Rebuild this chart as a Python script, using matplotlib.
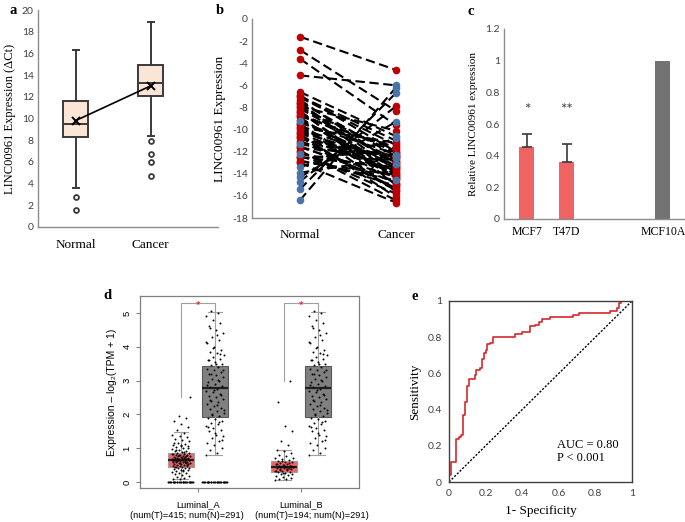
"""
plot.py

Five panel LINC00961 figure (a-e), redrawn with matplotlib.
"""

import numpy as np
import matplotlib
matplotlib.use("Agg")
import matplotlib.pyplot as plt
import matplotlib.transforms as mtransforms


# ------------------------------------------------------
# Data
# ------------------------------------------------------

# panel a: box stats (delta Ct)
a_groups = ["Normal", "Cancer"]
a_whislo = [3.6, 8.4]
a_q1 = [8.3, 12.1]
a_med = [9.5, 13.3]
a_q3 = [11.6, 14.9]
a_whishi = [16.3, 18.9]
a_mean = [9.8, 13.0]
a_fliers = [[2.8, 1.6], [7.9, 6.7, 6.0, 4.7]]

# panel b: paired samples
b_groups = ["Normal", "Cancer"]
b_normal = [-1.6, -2.8, -3.6, -5.1, -6.6, -6.9, -7.1, -7.3, -7.5, -7.7,
            -7.9, -8.1, -8.3, -8.5, -8.7, -8.9, -9.2, -9.4, -9.6, -9.8,
            -10.0, -10.2, -10.4, -10.6, -10.8, -11.0, -11.3, -11.5, -11.7,
            -11.9, -12.2, -12.4, -12.6, -12.8, -13.0, -13.4, -13.9, -14.3,
            -14.7, -15.4, -16.4,
            -7.0, -7.6, -8.0, -8.4, -8.8, -9.1, -9.5, -9.9, -10.3, -10.7,
            -11.2, -11.6, -12.0, -12.5, -12.9]
b_cancer = [-4.6, -8.3, -9.6, -6.0, -10.6, -12.0, -11.4, -13.2, -12.4,
            -14.2, -10.1, -13.0, -15.0, -12.7, -11.8, -14.5, -13.5, -12.2,
            -15.6, -11.2, -13.8, -12.9, -16.1, -14.0, -12.5, -15.3, -13.1,
            -14.8, -12.3, -16.4, -13.6, -15.1, -11.9, -14.6, -16.6, -10.8,
            -12.6, -9.3, -7.9, -6.7, -6.2,
            -11.0, -13.7, -12.1, -14.4, -11.6, -13.3, -14.9, -12.8, -13.9,
            -15.5, -12.4, -14.3, -15.8, -13.4, -14.1]
b_normal_col = ["r", "r", "r", "r", "r", "r", "r", "r", "r", "r",
                "r", "r", "r", "r", "r", "r", "b", "r", "r", "r",
                "r", "r", "r", "r", "r", "r", "b", "r", "r",
                "r", "b", "r", "r", "r", "r", "b", "b", "b",
                "b", "b", "b",
                "r", "r", "r", "r", "r", "r", "r", "r", "r", "r",
                "r", "r", "r", "r", "r"]
b_cancer_col = ["r", "r", "r", "b", "b", "r", "r", "r", "r",
                "r", "r", "r", "r", "r", "r", "r", "r", "r",
                "r", "r", "r", "r", "r", "r", "r", "r", "b",
                "r", "b", "r", "r", "r", "r", "b", "r", "b",
                "b", "b", "r", "b", "b",
                "r", "r", "r", "r", "r", "r", "r", "r", "r",
                "r", "r", "r", "r", "r", "r"]

# panel c: relative expression in cell lines
c_lines = ["MCF7", "T47D", "MCF10A"]
c_values = [0.455, 0.36, 1.0]
c_errors = [0.085, 0.115, 0.0]
c_stars = ["*", "**", ""]

# panel d: GEPIA box plots, log2(TPM + 1)
d_groups = ["Luminal_A", "Luminal_B"]
d_counts = ["(num(T)=415; num(N)=291)", "(num(T)=194; num(N)=291)"]
d_tumor_stats = [
    [0.08, 0.44, 0.64, 0.86, 1.47],
    [0.05, 0.30, 0.43, 0.62, 0.93],
]
d_normal_stats = [0.79, 1.93, 2.77, 3.42, 5.02]
d_tumor_a = [0.0] * 25 + [
    0.08, 0.1, 0.12, 0.15, 0.18, 0.2, 0.22, 0.25, 0.27, 0.3, 0.31, 0.33,
    0.35, 0.36, 0.38, 0.4, 0.41, 0.42, 0.44, 0.45, 0.46, 0.47, 0.48, 0.5,
    0.51, 0.52, 0.53, 0.54, 0.55, 0.56, 0.57, 0.58, 0.59, 0.6, 0.61, 0.62,
    0.63, 0.64, 0.65, 0.65, 0.66, 0.67, 0.68, 0.69, 0.7, 0.71, 0.72, 0.73,
    0.74, 0.75, 0.76, 0.77, 0.78, 0.79, 0.8, 0.81, 0.82, 0.84, 0.85, 0.87,
    0.89, 0.9, 0.92, 0.95, 0.97, 1.0, 1.02, 1.05, 1.08, 1.1, 1.13, 1.16,
    1.2, 1.24, 1.28, 1.32, 1.36, 1.4, 1.45, 1.55, 1.62, 1.7, 1.8, 1.88,
    1.95, 2.5,
    0.34, 0.43, 0.49, 0.55, 0.58, 0.6, 0.62, 0.66, 0.7, 0.72, 0.76, 0.8,
    0.83, 0.88, 0.94, 1.0, 1.06, 1.15]
d_tumor_b = [
    0.05, 0.08, 0.1, 0.13, 0.15, 0.18, 0.2, 0.22, 0.24, 0.26, 0.28, 0.3,
    0.31, 0.33, 0.35, 0.36, 0.38, 0.4, 0.41, 0.42, 0.43, 0.44, 0.45, 0.47,
    0.48, 0.5, 0.52, 0.54, 0.56, 0.58, 0.6, 0.62, 0.65, 0.68, 0.72, 0.76,
    0.8, 0.85, 0.9, 0.93, 1.1, 1.2, 1.5, 1.65, 2.35, 3.0,
    0.25, 0.32, 0.37, 0.39, 0.46, 0.49, 0.53, 0.57, 0.63, 0.7]
d_normal = [
    0.8, 0.85, 0.95, 1.0, 1.1, 1.15, 1.2, 1.3, 1.35, 1.4, 1.5, 1.55, 1.6,
    1.65, 1.7, 1.75, 1.8, 1.85, 1.9, 1.95, 2.0, 2.05, 2.1, 2.15, 2.2, 2.25,
    2.3, 2.35, 2.4, 2.45, 2.5, 2.55, 2.6, 2.65, 2.7, 2.75, 2.8, 2.85, 2.9,
    2.95, 3.0, 3.05, 3.1, 3.15, 3.2, 3.25, 3.3, 3.35, 3.4, 3.45, 3.5, 3.55,
    3.6, 3.65, 3.7, 3.75, 3.8, 3.85, 3.9, 4.0, 4.1, 4.2, 4.3, 4.4, 4.5,
    4.6, 4.7, 4.8, 4.9, 5.0, 5.05,
    1.25, 1.45, 1.62, 1.78, 1.98, 2.12, 2.28, 2.42, 2.58, 2.72, 2.88,
    3.02, 3.18, 3.32, 3.48, 3.62, 3.78, 3.95, 4.15, 4.35, 4.55]
d_normal_a_zeros = [0.0] * 25
d_bracket_low = [2.5, 3.0]

# panel e: ROC curve corners
e_fpr = [0.0, 0.0, 0.01, 0.04, 0.055, 0.068, 0.078, 0.09, 0.1, 0.11,
         0.14, 0.15, 0.17, 0.18, 0.19, 0.2, 0.21, 0.225, 0.24, 0.36,
         0.40, 0.44, 0.47, 0.49, 0.51, 0.55, 0.68, 0.71, 0.86, 0.88,
         0.92, 0.93, 0.94, 1.0]
e_tpr = [0.0, 0.04, 0.11, 0.24, 0.25, 0.26, 0.37, 0.44, 0.53, 0.57,
         0.59, 0.62, 0.63, 0.68, 0.71, 0.73, 0.76, 0.77, 0.80, 0.82,
         0.83, 0.86, 0.87, 0.885, 0.90, 0.91, 0.92, 0.935, 0.935, 0.945,
         0.96, 0.99, 1.0, 1.0]


# ------------------------------------------------------
# Style
# ------------------------------------------------------

W, H = 685, 522

SERIF = "Liberation Serif"
TICK = "Lato"
ARIAL = ["Liberation Sans", "DejaVu Sans"]

plt.rcParams["axes.unicode_minus"] = False

RED = "#C00000"
BLUE = "#4A74A8"
AXIS_GREY = "#8C8C8C"


def add_axes(fig, left, top, right, bottom):

    return fig.add_axes([
        left / W,
        1 - bottom / H,
        (right - left) / W,
        (bottom - top) / H
    ])


def excel_axes(ax):

    for side in ["top", "right"]:
        ax.spines[side].set_visible(False)

    for side in ["left", "bottom"]:
        ax.spines[side].set_color(AXIS_GREY)
        ax.spines[side].set_linewidth(1.0)

    ax.tick_params(length=0, pad=3)

    for label in ax.get_yticklabels():
        label.set_fontfamily(TICK)
        label.set_fontsize(7.5)
        label.set_color("#404040")

    for label in ax.get_xticklabels():
        label.set_fontfamily(SERIF)
        label.set_fontsize(9.5)


def panel_label(fig, x, y, text):

    fig.text(
        x / W, 1 - y / H, text,
        fontfamily=SERIF, fontweight="bold", fontsize=10.5,
        ha="left", va="top"
    )


# ------------------------------------------------------
# Panels
# ------------------------------------------------------

def draw_panel_a(fig):

    ax = add_axes(fig, 38, 10, 218, 227)

    stats = []
    for i in range(len(a_groups)):
        stats.append({
            "whislo": a_whislo[i], "q1": a_q1[i], "med": a_med[i],
            "q3": a_q3[i], "whishi": a_whishi[i], "fliers": a_fliers[i],
            "mean": a_mean[i], "label": a_groups[i]
        })

    pos = np.arange(1, len(a_groups) + 1)

    ax.bxp(
        stats, positions=pos, widths=0.33, patch_artist=True,
        showmeans=False,
        boxprops=dict(facecolor="#FBE5D6", edgecolor="#3A3A3A", linewidth=1.4),
        medianprops=dict(color="#3A3A3A", linewidth=1.4),
        whiskerprops=dict(color="#3A3A3A", linewidth=1.4),
        capprops=dict(color="#3A3A3A", linewidth=1.4),
        flierprops=dict(marker="o", markerfacecolor="white",
                        markeredgecolor="#3A3A3A", markersize=3.5,
                        markeredgewidth=1.3),
        capwidths=0.08
    )

    ax.plot(pos, a_mean, color="black", lw=1.2, marker="x",
            markersize=6, markeredgewidth=1.4, zorder=5)

    ax.set_xlim(0.5, 2.9)
    ax.set_ylim(0, 20)
    ax.set_yticks(np.arange(0, 21, 2))
    ax.set_xticks(pos)
    ax.set_xticklabels(a_groups)
    ax.set_ylabel("LINC00961 Expression (ΔCt)", fontfamily=SERIF,
                  fontsize=9, labelpad=4)
    excel_axes(ax)
    ax.tick_params(axis="x", pad=9)

    panel_label(fig, 10, 4, "a")


def draw_panel_b(fig):

    ax = add_axes(fig, 252, 19, 439, 218)

    colours = {"r": RED, "b": BLUE}

    for n, c in zip(b_normal, b_cancer):
        ax.plot([1, 2], [n, c], color="black", lw=1.5,
                ls=(0, (4.5, 2.2)), zorder=2)

    # red dots first, blue dots drawn over them
    for x, vals, cols in [(1, b_normal, b_normal_col),
                          (2, b_cancer, b_cancer_col)]:
        for key, z in [("r", 3), ("b", 4)]:
            ys = [v for v, k in zip(vals, cols) if k == key]
            ax.scatter(np.full(len(ys), x), ys, color=colours[key],
                       s=30, zorder=z, linewidths=0)

    ax.set_xlim(0.5, 2.45)
    ax.set_ylim(-18, 0)
    ax.set_yticks(np.arange(-18, 1, 2))
    ax.set_xticks([1, 2])
    ax.set_xticklabels(b_groups)
    ax.set_ylabel("LINC00961 Expression", fontfamily=SERIF, fontsize=9.5,
                  labelpad=4)
    excel_axes(ax)
    ax.tick_params(axis="x", pad=8)

    panel_label(fig, 216, 4, "b")


def draw_panel_c(fig):

    ax = add_axes(fig, 504, 29, 686, 219)

    pos = [1, 2, 4.4]
    colours = ["#EF6363", "#EF6363", "#737373"]

    ax.bar(pos, c_values, width=0.37, color=colours, zorder=2)
    ax.errorbar(
        pos[:2], c_values[:2],
        yerr=[[0, 0], c_errors[:2]],
        fmt="none", ecolor="#3A3A3A", elinewidth=1.2, capsize=3.5,
        capthick=1.2, zorder=3
    )

    for x, s in zip(pos, c_stars):
        if s:
            ax.text(x, 0.69, s, ha="center", va="center",
                    fontfamily=TICK, fontsize=11, color="#404040")

    ax.set_xlim(0.43, 4.98)
    ax.set_ylim(0, 1.2)
    ax.set_yticks(np.arange(0, 1.21, 0.2))
    ax.set_yticklabels([f"{v:g}" for v in np.round(np.arange(0, 1.21, 0.2), 1)])
    ax.set_xticks(pos)
    ax.set_xticklabels(c_lines)
    ax.set_ylabel("Relative LINC00961 expression", fontfamily=SERIF,
                  fontsize=8, labelpad=5)
    excel_axes(ax)
    ax.tick_params(axis="x", pad=5)
    for label in ax.get_xticklabels():
        label.set_fontsize(8.5)

    panel_label(fig, 467, 5, "c")


def jitter(n, width):

    # deterministic spread of the points across the box
    return ((np.arange(n) * 0.618034) % 1 - 0.5) * width


def draw_panel_d(fig):

    ax = add_axes(fig, 140, 296, 359, 488)

    box_style = dict(
        patch_artist=True, widths=0.26, capwidths=0.13,
        medianprops=dict(color="#202020", linewidth=1.6),
        whiskerprops=dict(color="#A0A0A0", linewidth=0.8),
        capprops=dict(color="#A0A0A0", linewidth=0.8),
        showfliers=False
    )

    off = 0.165
    keys = ["whislo", "q1", "med", "q3", "whishi"]

    tumor = [dict(zip(keys, s)) for s in d_tumor_stats]
    normal = [dict(zip(keys, d_normal_stats)) for _ in d_groups]

    b1 = ax.bxp(tumor, positions=[1 - off, 2 - off], **box_style)
    b2 = ax.bxp(normal, positions=[1 + off, 2 + off], **box_style)

    for patch in b1["boxes"]:
        patch.set_facecolor("#F26464")
        patch.set_edgecolor("#A0A0A0")
        patch.set_linewidth(0.8)
    for patch in b2["boxes"]:
        patch.set_facecolor("#808080")
        patch.set_edgecolor("#5A5A5A")
        patch.set_linewidth(0.8)

    point_sets = [
        (1 - off, d_tumor_a),
        (1 + off, d_normal + d_normal_a_zeros),
        (2 - off, d_tumor_b),
        (2 + off, d_normal),
    ]

    for x, vals in point_sets:
        vals = np.array(vals)
        xs = x + jitter(len(vals), 0.18)
        xs[vals == 0] = x + jitter(int((vals == 0).sum()), 0.25)
        ax.scatter(xs, vals, s=2.0, color="black", linewidths=0, zorder=4)

    # significance brackets
    for g, low in zip([1, 2], d_bracket_low):
        ax.plot([g - off, g - off, g + off, g + off],
                [low, 5.3, 5.3, 5.05], color="#A0A0A0", lw=0.8)
        ax.text(g, 5.22, "*", color="red", ha="center", va="center",
                fontsize=8, fontfamily=ARIAL)

    ax.set_xlim(0.437, 2.563)
    ax.set_ylim(-0.18, 5.5)
    ax.set_yticks(range(6))
    ax.set_xticks([1, 2])
    ax.set_xticklabels(d_groups, fontfamily=ARIAL, fontsize=6.7)

    # second label line sits a little off the tick, as in GEPIA output
    trans = mtransforms.blended_transform_factory(ax.transData, ax.transAxes)
    for g, text, shift in zip([1, 2], d_counts, [-0.107, 0.107]):
        ax.text(g + shift, -0.141, text, transform=trans, ha="center",
                va="center", fontfamily=ARIAL, fontsize=6.7)

    for label in ax.get_yticklabels():
        label.set_rotation(90)
        label.set_va("center")
        label.set_fontfamily(ARIAL)
        label.set_fontsize(6.8)

    for spine in ax.spines.values():
        spine.set_color("#808080")
        spine.set_linewidth(0.9)

    ax.tick_params(length=3, width=0.8, color="#808080", pad=3)
    ax.tick_params(axis="x", pad=6)

    ax.set_ylabel("Expression – log₂(TPM + 1)", fontfamily=ARIAL,
                  fontsize=7.5, labelpad=4)

    panel_label(fig, 103, 289, "d")


def draw_panel_e(fig):

    ax = add_axes(fig, 449, 301, 632, 482)

    ax.step(e_fpr, e_tpr, where="post", color="#D8282C", lw=1.2)
    ax.plot([0, 1], [0, 1], color="black", lw=1.0, ls=(0, (1.5, 1.2)))

    ax.text(0.59, 0.17, "AUC = 0.80\nP < 0.001", fontfamily=SERIF,
            fontsize=9, linespacing=1.1, va="center")

    ax.set_xlim(0, 1)
    ax.set_ylim(0, 1)
    ticks = np.round(np.arange(0, 1.01, 0.2), 1)
    ax.set_xticks(ticks)
    ax.set_yticks(ticks)
    ax.set_xticklabels([f"{v:g}" for v in ticks])
    ax.set_yticklabels([f"{v:g}" for v in ticks])

    for spine in ax.spines.values():
        spine.set_color("#404040")
        spine.set_linewidth(1.0)

    ax.tick_params(length=0, pad=5)

    for label in ax.get_xticklabels() + ax.get_yticklabels():
        label.set_fontfamily(TICK)
        label.set_fontsize(7.5)
        label.set_color("#404040")

    ax.set_xlabel("1- Specificity", fontfamily=SERIF, fontsize=9.5,
                  labelpad=5)
    ax.set_ylabel("Sensitivity", fontfamily=SERIF, fontsize=9.5,
                  labelpad=5)

    panel_label(fig, 412, 290, "e")


# ------------------------------------------------------
# Main
# ------------------------------------------------------

def main():

    fig = plt.figure(figsize=(W / 100, H / 100), dpi=100)

    draw_panel_a(fig)
    draw_panel_b(fig)
    draw_panel_c(fig)
    draw_panel_d(fig)
    draw_panel_e(fig)

    fig.savefig("out.png", dpi=100, facecolor="white")

    plt.close(fig)


if __name__ == "__main__":

    main()
